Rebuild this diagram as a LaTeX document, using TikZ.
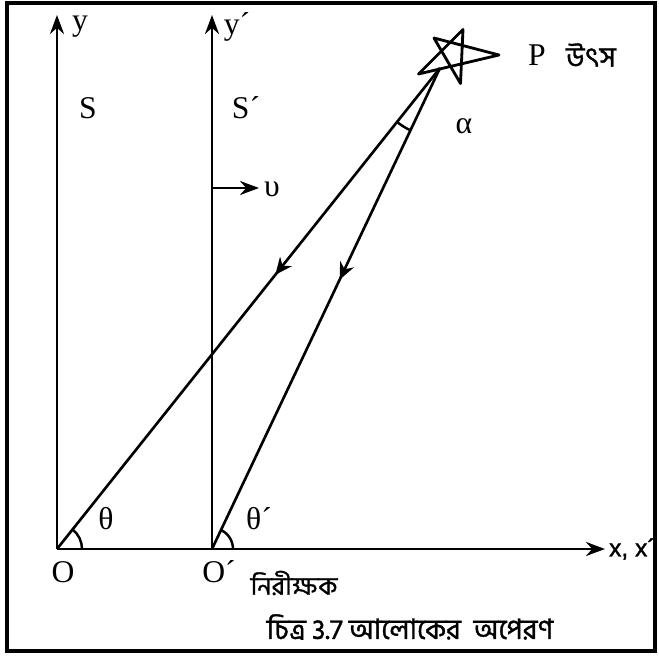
\documentclass[tikz,border=0pt]{standalone}
\usepackage{fontspec}
\setmainfont{Liberation Serif}
\newfontfamily\bnfont[Script=Bengali, FakeBold=1.2]{Hind Siliguri}
\newfontfamily\axfont[FakeBold=1.5]{Liberation Sans}
\usetikzlibrary{arrows.meta, decorations.markings, angles}

\begin{document}
\begin{tikzpicture}[
    axis/.style={-{Stealth[length=3.8mm, width=2.8mm]}, line width=1.5pt},
    ray/.style={line width=1.5pt, postaction={decorate},
      decoration={markings, mark=at position #1 with {\arrow{Stealth[length=3.4mm, width=3mm]}}}},
    lbl/.style={font=\fontsize{18}{21}\selectfont, inner sep=1pt},
    bnlbl/.style={font=\fontsize{16}{20}\selectfont\bnfont, inner sep=1pt},
    arcmark/.style={draw, line width=1.4pt},
  ]
  \useasboundingbox (-1.14,-2.14) rectangle (12.04,10.98);
  \draw[line width=1.8pt] (-1.0,-2.04) rectangle (11.96,10.92);

  % frames S and S'
  \coordinate (O) at (0,0);
  \coordinate (Op) at (3.1,0);
  \coordinate (ytip) at (0,10.68);
  \coordinate (yptip) at (3.1,10.68);
  \coordinate (xtip) at (10.96,0);
  \coordinate (P) at (7.66,9.62);

  \draw[axis] (O) -- (ytip);
  \draw[axis] (Op) -- (yptip);
  \draw[axis] (O) -- (xtip);

  \node[lbl] (ylab) at (0.46,10.44) {y};
  \node[lbl] (yplab) at (3.6,10.44) {y´};
  \node[lbl] (slab) at (0.62,8.82) {S};
  \node[lbl] (splab) at (3.78,8.82) {S´};
  \node[lbl, anchor=west, font=\fontsize{14}{17}\selectfont\axfont] (xlab) at (11.0,0) {x, x´};
  \node[lbl] (olab) at (0.12,-0.46) {O};
  \node[lbl] (oplab) at (3.24,-0.46) {O´};
  \node[bnlbl, font=\fontsize{14.5}{18}\selectfont\bnfont] (obs) at (4.74,-0.68) {নিরীক্ষক};

  % velocity of S'
  \coordinate (vs) at (3.1,7.22);
  \coordinate (ve) at (4.04,7.22);
  \draw[axis] (vs) -- (ve);
  \node[lbl] (vlab) at (4.3,7.2) {υ};

  % source
  \coordinate (sA) at (8.12,10.39);
  \coordinate (sB) at (8.84,9.88);
  \coordinate (sC) at (8.07,9.31);
  \coordinate (sD) at (7.23,9.50);
  \coordinate (sE) at (7.54,10.22);
  \draw[line width=1.6pt, line join=round] (sA) -- (sC) -- (sE) -- (sB) -- (sD) -- cycle;
  \node[lbl] (plab) at (9.6,9.88) {P};
  \node[bnlbl] (src) at (10.68,9.88) {উৎস};

  % light rays
  \draw[ray=0.43] (P) -- (O);
  \draw[ray=0.44] (P) -- (Op);

  \pic[arcmark, angle radius=0.5cm] {angle=xtip--O--P};
  \pic[arcmark, angle radius=0.42cm] {angle=xtip--Op--P};
  \pic[arcmark, angle radius=1.38cm] {angle=O--P--Op};
  \node[lbl] (th) at (0.98,0.6) {θ};
  \node[lbl] (thp) at (4.04,0.6) {θ´};
  \node[lbl] (al) at (8.14,8.46) {α};

  \node[bnlbl] (cap) at (7.06,-1.56) {চিত্র 3.7 আলোকের \ অপেরণ};
\end{tikzpicture}
\end{document}
